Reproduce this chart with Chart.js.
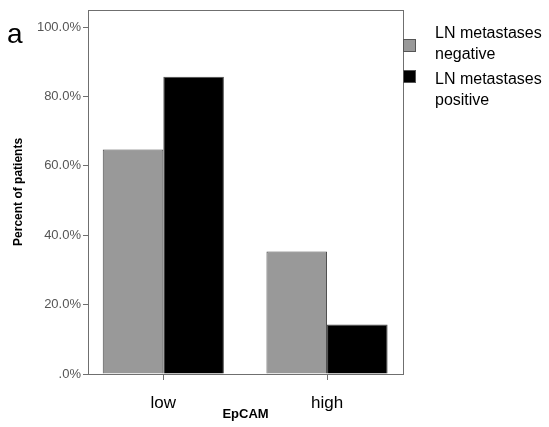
<!DOCTYPE html>
<html>
<head>
<meta charset="utf-8">
<script src="https://cdn.jsdelivr.net/npm/chart.js@4.4.0/dist/chart.umd.min.js"></script>
<style>
  html, body { margin: 0; padding: 0; background: #fff; }
  #wrap { width: 549px; height: 427px; position: relative; }
</style>
</head>
<body>
<div id="wrap"><canvas id="epcamChart"></canvas></div>
<script>
// EpCAM expression vs lymph node status (percent of patients)
const categories = ['low', 'high'];
const negativeValues = [64.7, 35.3];
const positiveValues = [85.7, 14.3];
const seriesNames = [['LN metastases', 'negative'], ['LN metastases', 'positive']];
const yTicks = [0, 20, 40, 60, 80, 100];

const frameColor = '#6f6f6f';
const textFont = "'Liberation Sans', Arial, sans-serif";

// Frame, panel letter, axis titles and the two-line legend
const decorPlugin = {
    id: 'decor',
    afterDraw(chart) {
        const { ctx, chartArea: a } = chart;
        ctx.save();
        ctx.strokeStyle = frameColor;
        ctx.lineWidth = 1;
        ctx.strokeRect(Math.round(a.left) + 0.5, Math.round(a.top) + 0.5,
            Math.round(a.right - a.left), Math.round(a.bottom - a.top));

        // panel letter
        ctx.fillStyle = '#000';
        ctx.font = '28px ' + textFont;
        ctx.textAlign = 'left';
        ctx.textBaseline = 'alphabetic';
        ctx.fillText('a', 7, 43);

        // y title
        ctx.font = 'bold 12px ' + textFont;
        ctx.textAlign = 'center';
        ctx.textBaseline = 'middle';
        ctx.save();
        ctx.translate(19, (a.top + a.bottom) / 2);
        ctx.rotate(-Math.PI / 2);
        ctx.fillText('Percent of patients', 0, 0);
        ctx.restore();

        // x title
        ctx.font = 'bold 13px ' + textFont;
        ctx.fillText('EpCAM', (a.left + a.right) / 2, 414);

        // legend
        const sets = chart.data.datasets;
        const boxTops = [39, 70];
        const textTops = [34, 80];
        ctx.textAlign = 'left';
        ctx.font = '16px ' + textFont;
        sets.forEach((ds, i) => {
            ctx.fillStyle = ds.backgroundColor;
            ctx.fillRect(a.right, boxTops[i], 13, 13);
            ctx.strokeStyle = '#555';
            ctx.strokeRect(a.right + 0.5, boxTops[i] + 0.5, 12, 12);
            ctx.fillStyle = '#000';
            seriesNames[i].forEach((line, j) => {
                ctx.fillText(line, a.right + 32, textTops[i] + j * 21);
            });
        });
        ctx.restore();
    }
};

new Chart(document.getElementById('epcamChart'), {
    type: 'bar',
    data: {
        datasets: [
            {
                label: seriesNames[0].join(' '),
                data: negativeValues.map((v, i) => ({ x: i, y: v })),
                backgroundColor: '#999999',
                borderColor: '#4a4a4a',
                borderWidth: 1
            },
            {
                label: seriesNames[1].join(' '),
                data: positiveValues.map((v, i) => ({ x: i, y: v })),
                backgroundColor: '#000000',
                borderColor: '#4a4a4a',
                borderWidth: 1
            }
        ]
    },
    options: {
        responsive: true,
        maintainAspectRatio: false,
        animation: false,
        layout: { padding: { left: 0, top: 7, right: 146, bottom: 0 } },
        datasets: { bar: { categoryPercentage: 0.74, barPercentage: 1.0 } },
        plugins: {
            legend: { display: false },
            tooltip: { enabled: false }
        },
        scales: {
            x: {
                type: 'linear',
                min: -0.46,
                max: 1.464,
                offset: false,
                afterBuildTicks: (scale) => {
                    scale.ticks = categories.map((c, i) => ({ value: i }));
                },
                afterFit: (scale) => { scale.height = 53; },
                border: { display: false },
                grid: {
                    drawOnChartArea: false,
                    drawTicks: true,
                    tickLength: 6,
                    color: frameColor,
                    offset: false
                },
                ticks: {
                    padding: 13,
                    color: '#000',
                    font: { family: textFont, size: 17 },
                    callback: (v) => categories[v]
                }
            },
            y: {
                min: 0,
                max: 105,
                afterBuildTicks: (scale) => {
                    scale.ticks = yTicks.map(v => ({ value: v }));
                },
                afterFit: (scale) => { scale.width = 88; },
                border: { display: false },
                grid: {
                    drawOnChartArea: false,
                    drawTicks: true,
                    tickLength: 5,
                    color: frameColor
                },
                ticks: {
                    padding: 2,
                    color: '#555',
                    font: { family: textFont, size: 13 },
                    callback: (v) => v === 0 ? '.0%' : v.toFixed(1) + '%'
                }
            }
        }
    },
    plugins: [decorPlugin]
});
</script>
</body>
</html>
